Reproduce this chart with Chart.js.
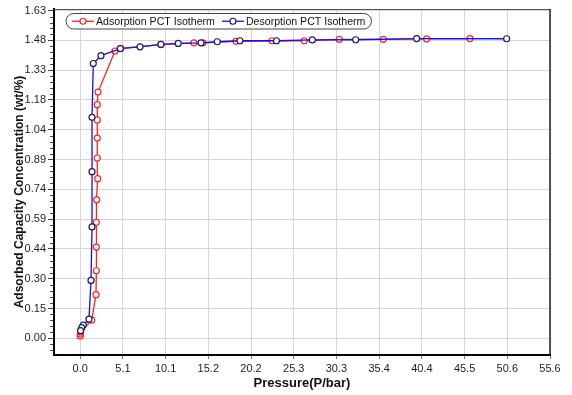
<!DOCTYPE html>
<html><head><meta charset="utf-8">
<style>html,body{margin:0;padding:0;background:#fff;} canvas{display:block;}</style>
<script src="https://cdn.jsdelivr.net/npm/chart.js@4.4.1/dist/chart.umd.min.js"></script>
</head><body>
<canvas id="c" width="572" height="395" style="width:572px;height:395px"></canvas>
<script>
// ---- data ----
const seriesNames = ['Adsorption PCT Isotherm', 'Desorption PCT Isotherm'];
const adsorptionPressure = [0.00, 0.02, 0.05, 1.36, 1.87, 1.91, 1.91, 1.91, 1.95, 2.07, 2.02, 2.02, 2.02, 2.02, 2.11, 4.12, 4.79, 9.56, 13.46, 14.53, 18.43, 22.70, 26.52, 30.66, 35.87, 41.00, 46.13];
const adsorptionCapacity = [0.011, 0.021, 0.031, 0.090, 0.217, 0.336, 0.454, 0.577, 0.689, 0.794, 0.897, 0.996, 1.086, 1.162, 1.225, 1.429, 1.442, 1.461, 1.470, 1.470, 1.477, 1.480, 1.480, 1.487, 1.487, 1.489, 1.491];
const desorptionPressure = [50.47, 39.82, 32.60, 27.47, 23.23, 18.91, 16.22, 14.30, 11.60, 9.56, 7.08, 4.75, 2.46, 1.55, 1.40, 1.40, 1.40, 1.28, 1.04, 0.37, 0.18, 0.04];
const desorptionCapacity = [1.490, 1.491, 1.485, 1.484, 1.480, 1.480, 1.475, 1.470, 1.467, 1.462, 1.450, 1.441, 1.406, 1.367, 1.099, 0.829, 0.554, 0.288, 0.095, 0.066, 0.053, 0.038];
const xTickLabels = ['0.0', '5.1', '10.1', '15.2', '20.2', '25.3', '30.3', '35.4', '40.4', '45.5', '50.6', '55.6'];
const yTickLabels = ['0.00', '0.15', '0.30', '0.44', '0.59', '0.74', '0.89', '1.04', '1.18', '1.33', '1.48', '1.63'];
const xTitle = 'Pressure(P/bar)';
const yTitle = 'Adsorbed Capacity Concentration (wt/%)';

// ---- derived ----
const xMaxTick = parseFloat(xTickLabels[xTickLabels.length - 1]);
const yMaxTick = parseFloat(yTickLabels[yTickLabels.length - 1]);
const xStep = xMaxTick / (xTickLabels.length - 1);
const yStep = yMaxTick / (yTickLabels.length - 1);
const toPoints = (xs, ys) => xs.map((x, i) => ({x: x, y: ys[i]}));

const TICK_FONT = {family: '"Liberation Sans", Arial, sans-serif', size: 11};
const TICK_COLOR = '#1e1e1e';

const decorPlugin = {
  id: 'decor',
  afterDraw(chart) {
    const ctx = chart.ctx;
    const a = chart.chartArea;
    const ys = chart.scales.y;
    ctx.save();
    // top & right frame
    ctx.lineWidth = 1;
    ctx.strokeStyle = '#555';
    ctx.beginPath();
    ctx.moveTo(a.left, a.top + 0.5);
    ctx.lineTo(a.right, a.top + 0.5);
    ctx.stroke();
    ctx.strokeStyle = '#000';
    ctx.lineWidth = 1.3;
    ctx.beginPath();
    ctx.moveTo(a.right, a.top);
    ctx.lineTo(a.right, a.bottom);
    ctx.stroke();
    // minor ticks on y axis
    ctx.strokeStyle = '#444';
    ctx.lineWidth = 1;
    const minor = yStep / 5;
    for (let j = Math.ceil(ys.min / minor); j * minor <= ys.max; j++) {
      if (j % 5 === 0) continue;
      const py = Math.round(ys.getPixelForValue(j * minor)) + 0.5;
      ctx.beginPath();
      ctx.moveTo(a.left - 4, py);
      ctx.lineTo(a.left - 1, py);
      ctx.stroke();
    }
    // y axis title
    ctx.fillStyle = '#111';
    ctx.font = 'bold 12px "Liberation Sans", Arial, sans-serif';
    ctx.textAlign = 'center';
    ctx.textBaseline = 'middle';
    ctx.translate(19.5, 192);
    ctx.rotate(-Math.PI / 2);
    ctx.fillText(yTitle, 0, 0);
    ctx.restore();

    // legend (pill box)
    ctx.save();
    const x0 = 66, y0 = 13.5, h = 15.5, cy = y0 + h / 2;
    ctx.font = '10.6px "Liberation Sans", Arial, sans-serif';
    let x = x0 + 6;
    const layout = chart.data.datasets.map(ds => {
      const item = {ds: ds, lineStart: x, lineEnd: x + 22, textX: x + 24};
      item.textEnd = item.textX + ctx.measureText(ds.label).width;
      x = item.textEnd + 7;
      return item;
    });
    const x1 = layout[layout.length - 1].textEnd + 6;
    const r = h / 2;
    ctx.beginPath();
    ctx.moveTo(x0 + r, y0);
    ctx.lineTo(x1 - r, y0);
    ctx.arc(x1 - r, cy, r, -Math.PI / 2, Math.PI / 2);
    ctx.lineTo(x0 + r, y0 + h);
    ctx.arc(x0 + r, cy, r, Math.PI / 2, Math.PI * 1.5);
    ctx.closePath();
    ctx.fillStyle = '#fff';
    ctx.fill();
    ctx.strokeStyle = '#444';
    ctx.lineWidth = 1;
    ctx.stroke();
    layout.forEach(it => {
      ctx.strokeStyle = it.ds.borderColor;
      ctx.lineWidth = 1.3;
      ctx.beginPath();
      ctx.moveTo(it.lineStart, cy);
      ctx.lineTo(it.lineEnd, cy);
      ctx.stroke();
      ctx.beginPath();
      ctx.arc((it.lineStart + it.lineEnd) / 2, cy, 3, 0, Math.PI * 2);
      ctx.fillStyle = '#fff';
      ctx.fill();
      ctx.strokeStyle = it.ds.pointBorderColor;
      ctx.lineWidth = 1.2;
      ctx.stroke();
      ctx.fillStyle = '#111';
      ctx.textAlign = 'left';
      ctx.textBaseline = 'middle';
      ctx.fillText(it.ds.label, it.textX, cy + 0.5);
    });
    ctx.restore();
  }
};

new Chart(document.getElementById('c'), {
  type: 'scatter',
  data: {
    datasets: [
      {
        label: seriesNames[0],
        data: toPoints(adsorptionPressure, adsorptionCapacity),
        showLine: true,
        borderColor: '#ff2222',
        borderWidth: 1.3,
        pointBorderColor: '#ff2222',
        pointBackgroundColor: '#fff',
        pointRadius: 3,
        pointBorderWidth: 1.2,
        order: 1
      },
      {
        label: seriesNames[1],
        data: toPoints(desorptionPressure, desorptionCapacity),
        showLine: true,
        borderColor: '#1010ff',
        borderWidth: 1.3,
        pointBorderColor: '#1c1c5a',
        pointBackgroundColor: '#fff',
        pointRadius: 3,
        pointBorderWidth: 1.2,
        order: 0
      }
    ]
  },
  options: {
    responsive: false,
    devicePixelRatio: 1,
    animation: false,
    layout: {padding: {top: 9, right: 22, left: 0, bottom: 0}},
    plugins: {legend: {display: false}, tooltip: {enabled: false}},
    scales: {
      x: {
        type: 'linear',
        min: -3.1,
        max: xMaxTick,
        afterFit(s) { s.height = 40; },
        afterBuildTicks(s) { s.ticks = xTickLabels.map((_, i) => ({value: i * xStep})); },
        ticks: {
          autoSkip: false, maxRotation: 0, padding: 3,
          font: TICK_FONT, color: TICK_COLOR,
          callback: (v, i) => xTickLabels[i]
        },
        grid: {color: '#d6d6d6', lineWidth: 1, tickLength: 4, tickColor: '#777'},
        border: {color: '#000', width: 2},
        title: {
          display: true, text: xTitle, color: '#111',
          font: {family: '"Liberation Sans", Arial, sans-serif', size: 13, weight: 'bold'},
          padding: {top: 0, bottom: 4}
        }
      },
      y: {
        type: 'linear',
        min: -0.083,
        max: 1.638,
        afterFit(s) { s.width = 54; },
        afterBuildTicks(s) { s.ticks = yTickLabels.map((_, i) => ({value: i * yStep})); },
        ticks: {
          autoSkip: false, padding: 2,
          font: TICK_FONT, color: TICK_COLOR,
          callback: (v, i) => yTickLabels[i]
        },
        grid: {color: '#d6d6d6', lineWidth: 1, tickLength: 6, tickColor: '#444'},
        border: {color: '#000', width: 2}
      }
    }
  },
  plugins: [decorPlugin]
});
</script>
</body></html>
